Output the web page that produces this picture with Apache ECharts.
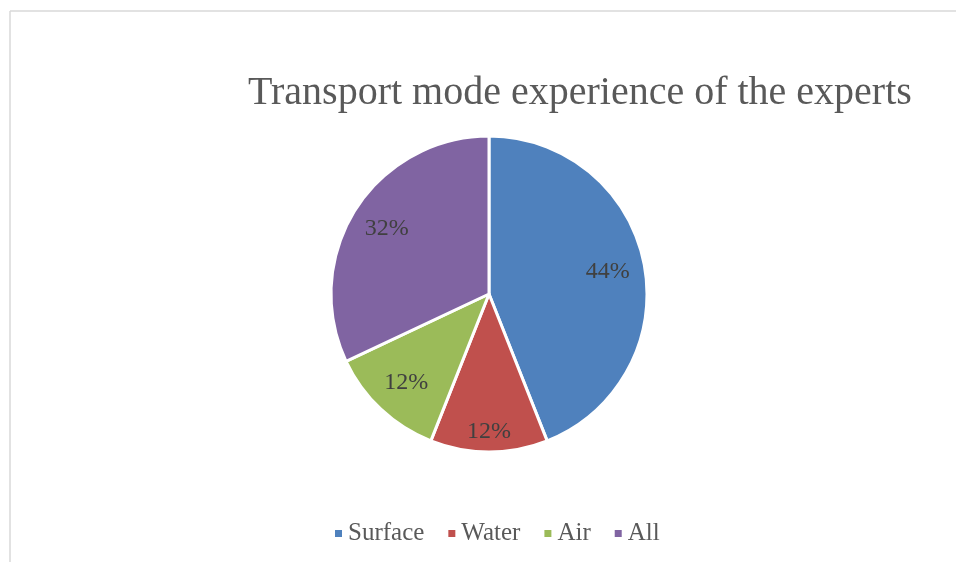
<!DOCTYPE html>
<html>
<head>
<meta charset="utf-8">
<script src="https://cdn.jsdelivr.net/npm/echarts@6/dist/echarts.min.js"></script>
<style>
html,body{margin:0;padding:0;background:#fff;}
#chart{width:956px;height:562px;}
</style>
</head>
<body>
<div id="chart"></div>
<script>
const titleText = 'Transport mode experience of the experts';
const categories = ['Surface', 'Water', 'Air', 'All'];
const values = [44, 12, 12, 32];
const colors = ['#4F81BD', '#C0504D', '#9BBB59', '#8064A2'];

const FONT = '"Liberation Serif", serif';
const chart = echarts.init(document.getElementById('chart'), null, {renderer: 'canvas'});
const data = categories.map((c, i) => ({name: c, value: values[i]}));
// Two transparent label rings: Water's label sits further out than the others
const outerLabelSet = ['Water'];
const ringData = (outer) => categories.map((c, i) => ({
  name: c, value: values[i],
  label: {show: outerLabelSet.includes(c) === outer}
}));

const labelRing = (radius, outer) => ({
  type: 'pie',
  center: [489, 294],
  radius: radius,
  startAngle: 90,
  clockwise: true,
  silent: true,
  data: ringData(outer),
  itemStyle: {color: 'transparent', borderWidth: 0},
  label: {
    position: 'inside',
    formatter: '{c}%',
    fontFamily: FONT,
    fontSize: 24,
    color: '#404040'
  },
  labelLine: {show: false},
  emphasis: {disabled: true}
});

chart.setOption({
  animation: false,
  backgroundColor: '#ffffff',
  color: colors,
  title: {
    text: titleText,
    left: 243,
    top: 68,
    textStyle: {fontFamily: FONT, fontSize: 40, fontWeight: 'normal', color: '#595959'}
  },
  legend: {
    data: categories,
    bottom: 11,
    left: 328,
    itemWidth: 9,
    itemHeight: 9,
    itemGap: 22,
    icon: 'rect',
    textStyle: {fontFamily: FONT, fontSize: 25, color: '#595959'}
  },
  graphic: [
    {type: 'line', shape: {x1: 10, y1: 11, x2: 956, y2: 11}, style: {stroke: '#d9d9d9', lineWidth: 1.5}},
    {type: 'line', shape: {x1: 10, y1: 11, x2: 10, y2: 562}, style: {stroke: '#d9d9d9', lineWidth: 1.5}}
  ],
  series: [
    {
      type: 'pie',
      center: [489, 294],
      radius: [0, 158],
      startAngle: 90,
      clockwise: true,
      data: data,
      label: {show: false},
      labelLine: {show: false},
      itemStyle: {borderColor: '#ffffff', borderWidth: 3},
      emphasis: {disabled: true}
    },
    labelRing([78, 158], false),
    labelRing([112, 158], true)
  ]
});
</script>
</body>
</html>
